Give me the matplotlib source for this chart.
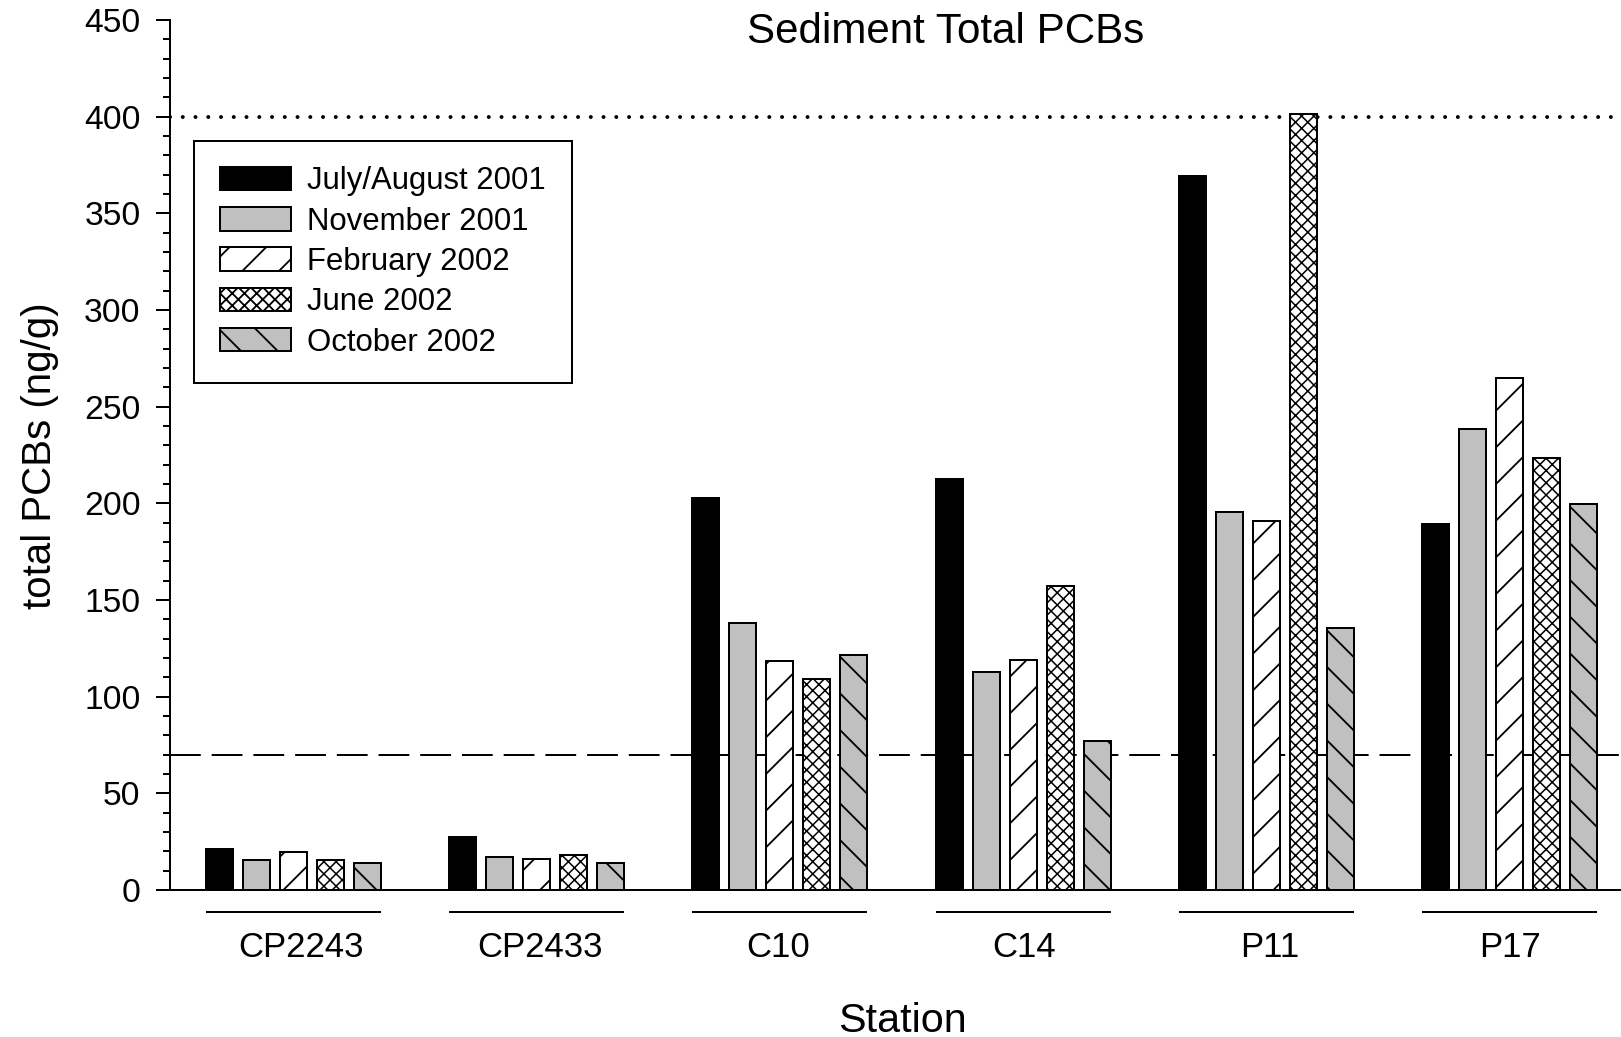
import numpy as np
import matplotlib
matplotlib.use('Agg')
import matplotlib.pyplot as plt
from matplotlib.ticker import MultipleLocator
import matplotlib.transforms as transforms

# data
stations = ['CP2243', 'CP2433', 'C10', 'C14', 'P11', 'P17']
series_names = ['July/August 2001', 'November 2001', 'February 2002', 'June 2002', 'October 2002']
july_aug_2001 = [21.2, 27.4, 202.6, 212.4, 369.3, 189.3]
november_2001 = [15.7, 16.9, 138.3, 112.8, 195.7, 238.3]
february_2002 = [19.5, 15.9, 118.6, 118.8, 190.9, 265.0]
june_2002 = [15.7, 18.1, 109.1, 157.4, 401.5, 223.6]
october_2002 = [14.1, 14.0, 121.5, 77.1, 135.3, 199.7]
upper_guideline = 400
lower_guideline = 70

# drawing styles
face_colors = ['black', '#c0c0c0', 'white', 'white', '#c0c0c0']
hatches = [None, None, '//', 'xxxxxx', '\\\\']
hatch_widths = [0.6, 0.6, 0.6, 0.5, 0.6]
label_nudge = [0.034, 0.013, -0.006, 0.004, 0.015, 0.0]  # station labels are not quite centred

DPI = 220  # high dpi keeps the single hatches as sparse as in the original
W, H = 1621, 1037
plt.rcParams['font.family'] = ['Liberation Sans', 'DejaVu Sans']

fig = plt.figure(figsize=(W / DPI, H / DPI), dpi=DPI)
fig.set_facecolor('w')
ax = fig.add_axes([170 / W, (H - 890) / H, 1 - 170 / W, 870 / H])

all_series = [july_aug_2001, november_2001, february_2002, june_2002, october_2002]
x = np.arange(len(stations))
step = 0.152
width = 0.111

# reference lines sit behind the bars
ax.axhline(upper_guideline, color='black', lw=1.3, linestyle=(0, (0.01, 3.2)),
           dash_capstyle='round', zorder=1)
ax.axhline(lower_guideline, color='black', lw=0.65, linestyle=(0, (15.5, 5.5)), zorder=1)

for i, values in enumerate(all_series):
    plt.rcParams['hatch.linewidth'] = hatch_widths[i]
    ax.bar(x + (i - 2) * step, values, width=width, color=face_colors[i],
           edgecolor='black', linewidth=0.65, hatch=hatches[i],
           label=series_names[i], zorder=2)

ax.set_xlim(-0.5064, 5.457)
ax.set_ylim(0, 450)
ax.yaxis.set_major_locator(MultipleLocator(50))
ax.yaxis.set_minor_locator(MultipleLocator(10))
ax.tick_params(axis='y', which='major', direction='out', length=4.6, width=0.65,
               labelsize=11, pad=5)
ax.tick_params(axis='y', which='minor', direction='out', length=2.45, width=0.65)
ax.set_xticks([])
for side in ['top', 'right']:
    ax.spines[side].set_visible(False)
for side in ['left', 'bottom']:
    ax.spines[side].set_linewidth(0.65)

# station labels with a line above each group
trans = transforms.blended_transform_factory(ax.transData, ax.transAxes)
for i, name in enumerate(stations):
    ax.plot([i - 0.355, i + 0.355], [-0.0253, -0.0253], color='black', lw=0.65,
            transform=trans, clip_on=False)
    ax.text(i + label_nudge[i], -0.0767, name, transform=trans, ha='center',
            va='baseline', fontsize=11.4)

leg = ax.legend(loc='upper left', bbox_to_anchor=(0.01654, 0.8614), borderaxespad=0,
                fontsize=10.2, handlelength=2.28, handleheight=0.78, handletextpad=0.53,
                labelspacing=0.33, borderpad=0.83, fancybox=False, framealpha=1,
                edgecolor='black')
leg.get_frame().set_linewidth(0.65)

fig.text(945.7 / W, (H - 42.7) / H, 'Sediment Total PCBs', ha='center', va='baseline',
         fontsize=13.8)
fig.text(902 / W, (H - 1031.7) / H, 'Station', ha='center', va='baseline', fontsize=13.5)
fig.text(40 / W, (H - 456) / H, 'total PCBs (ng/g)', rotation=90, ha='center',
         va='center', fontsize=13.2)

fig.savefig('out.png', dpi=DPI)
